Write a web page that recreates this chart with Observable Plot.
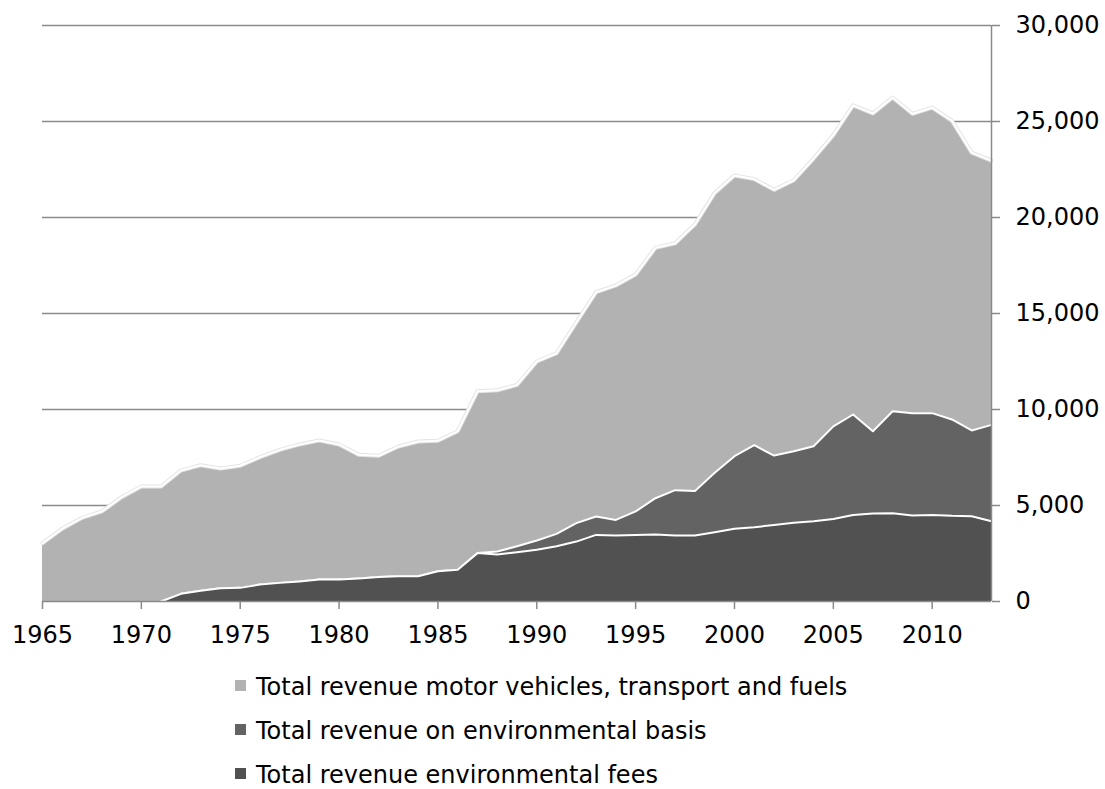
<!DOCTYPE html>
<html>
<head>
<meta charset="utf-8">
<script src="https://cdn.jsdelivr.net/npm/d3@7"></script>
<script src="https://cdn.jsdelivr.net/npm/@observablehq/plot@0.6"></script>
<style>
  html, body { margin: 0; padding: 0; background: #fff; }
  #wrap { position: relative; width: 1105px; height: 789px; background: #fff; overflow: hidden; }
  #legend { position: absolute; left: 235px; top: 676.7px; font-family: "DejaVu Sans", Verdana, sans-serif; font-size: 24px; color: #000; }
  .row { position: relative; height: 20px; line-height: 20px; margin-bottom: 24px; padding-left: 21px; white-space: nowrap; }
  .sw { position: absolute; left: 0; top: 3px; width: 11px; height: 11px; }
</style>
</head>
<body>
<div id="wrap">
  <div id="chart"></div>
  <div id="legend"></div>
</div>
<script>
// Revenue series by year (same units as the right-hand axis)
const years = [
  1965, 1966, 1967, 1968, 1969, 1970, 1971, 1972, 1973, 1974,
  1975, 1976, 1977, 1978, 1979, 1980, 1981, 1982, 1983, 1984,
  1985, 1986, 1987, 1988, 1989, 1990, 1991, 1992, 1993, 1994,
  1995, 1996, 1997, 1998, 1999, 2000, 2001, 2002, 2003, 2004,
  2005, 2006, 2007, 2008, 2009, 2010, 2011, 2012, 2013
];

const motorVehicles = [
  3040, 3790, 4360, 4690, 5430, 5990, 5990, 6820, 7100, 6930,
  7070, 7520, 7900, 8180, 8390, 8180, 7640, 7590, 8070, 8330,
  8370, 8870, 10950, 11000, 11280, 12500, 12930, 14530, 16110, 16460,
  17030, 18420, 18660, 19640, 21280, 22190, 22000, 21440, 21940, 23070,
  24290, 25840, 25420, 26250, 25400, 25720, 25040, 23380, 22960
];

const environmentalBasis = [
  0, 0, 0, 0, 0, 0, 0, 400, 560, 690,
  710, 885, 970, 1040, 1150, 1150, 1200, 1270, 1320, 1320,
  1580, 1650, 2520, 2600, 2880, 3180, 3520, 4080, 4430, 4250,
  4690, 5380, 5800, 5760, 6700, 7570, 8140, 7600, 7830, 8090,
  9120, 9740, 8870, 9910, 9810, 9810, 9480, 8910, 9200
];

const environmentalFees = [
  0, 0, 0, 0, 0, 0, 0, 400, 560, 690,
  710, 885, 970, 1040, 1150, 1150, 1200, 1270, 1320, 1320,
  1580, 1650, 2520, 2450, 2570, 2690, 2880, 3120, 3470, 3440,
  3470, 3490, 3440, 3440, 3610, 3790, 3870, 3980, 4100, 4180,
  4300, 4500, 4580, 4600, 4480, 4510, 4460, 4440, 4180
];

const seriesNames = [
  "Total revenue motor vehicles, transport and fuels",
  "Total revenue on environmental basis",
  "Total revenue environmental fees"
];
const seriesColors = ["#b2b2b2", "#636363", "#515151"];

const yTicks = [0, 5000, 10000, 15000, 20000, 25000, 30000];
const xTicks = [1965, 1970, 1975, 1980, 1985, 1990, 1995, 2000, 2005, 2010];

const rows = years.map((year, i) => ({
  year,
  motor: motorVehicles[i],
  basis: environmentalBasis[i],
  fees: environmentalFees[i]
}));
// outlines start where a series first leaves zero
const basisLine = rows.filter(d => d.year >= 1971);
const feesLine = rows.filter(d => d.year >= 1971);

const axisGray = "#8a8a8a";

const chart = Plot.plot({
  width: 1105,
  height: 660,
  marginLeft: 42,
  marginRight: 114,
  marginTop: 25,
  marginBottom: 59,
  style: {
    fontFamily: "'DejaVu Sans', Verdana, sans-serif",
    fontSize: "24px",
    background: "#fff",
    color: "#000"
  },
  x: { domain: [1965, 2013] },
  y: { domain: [0, 30000] },
  marks: [
    Plot.ruleY(yTicks.filter(v => v > 0), { stroke: axisGray, strokeWidth: 1.5 }),
    Plot.areaY(rows, { x: "year", y: "motor", fill: seriesColors[0] }),
    Plot.line(rows, { x: "year", y: "motor", stroke: "#e4e4e4", strokeWidth: 4 }),
    Plot.line(rows, { x: "year", y: "motor", stroke: "#fff", strokeWidth: 2 }),
    Plot.areaY(rows, { x: "year", y: "basis", fill: seriesColors[1] }),
    Plot.line(basisLine, { x: "year", y: "basis", stroke: "#fff", strokeWidth: 2 }),
    Plot.areaY(rows, { x: "year", y: "fees", fill: seriesColors[2] }),
    Plot.line(feesLine, { x: "year", y: "fees", stroke: "#fff", strokeWidth: 2 }),
    Plot.ruleY([0], { stroke: axisGray, strokeWidth: 1.5 }),
    Plot.ruleX([2013], { stroke: axisGray, strokeWidth: 1.5 }),
    Plot.axisY({
      anchor: "right",
      ticks: yTicks,
      tickSize: 8,
      tickPadding: 16,
      tickFormat: d3.format(","),
      stroke: axisGray,
      strokeWidth: 1.5,
      fill: "#000",
      label: null
    }),
    Plot.axisX({
      anchor: "bottom",
      ticks: xTicks,
      tickSize: 8,
      tickPadding: 16,
      tickFormat: d => String(d),
      stroke: axisGray,
      strokeWidth: 1.5,
      fill: "#000",
      label: null
    })
  ]
});
document.getElementById("chart").appendChild(chart);

const legend = document.getElementById("legend");
seriesNames.forEach((name, i) => {
  const row = document.createElement("div");
  row.className = "row";
  const sw = document.createElement("span");
  sw.className = "sw";
  sw.style.background = seriesColors[i];
  row.appendChild(sw);
  row.appendChild(document.createTextNode(name));
  legend.appendChild(row);
});
</script>
</body>
</html>
